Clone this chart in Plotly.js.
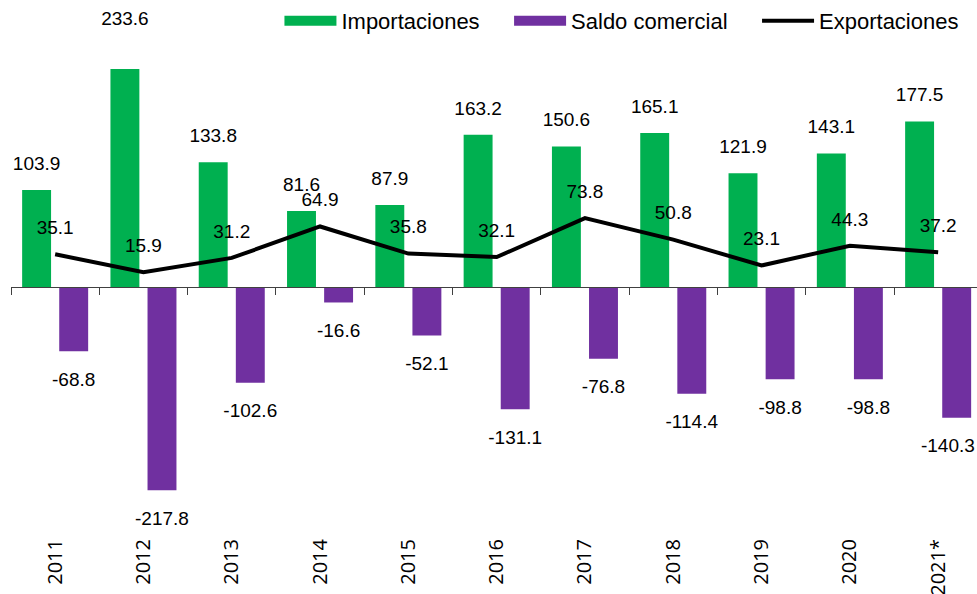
<!DOCTYPE html>
<html>
<head>
<meta charset="utf-8">
<script src="https://cdn.plot.ly/plotly-3.0.1.min.js"></script>
<style>html,body{margin:0;padding:0;background:#fff}#chart{width:977px;height:594px}</style>
</head>
<body>
<div id="chart"></div>
<script>
const years = ['2011','2012','2013','2014','2015','2016','2017','2018','2019','2020','2021*'];
const importaciones = [103.9, 233.6, 133.8, 81.6, 87.9, 163.2, 150.6, 165.1, 121.9, 143.1, 177.5];
const saldo = [-68.8, -217.8, -102.6, -16.6, -52.1, -131.1, -76.8, -114.4, -98.8, -98.8, -140.3];
const exportaciones = [35.1, 15.9, 31.2, 64.9, 35.8, 32.1, 73.8, 50.8, 23.1, 44.3, 37.2];

const GREEN = '#00B050', PURPLE = '#7030A0';
const labelFont = {family: 'Liberation Sans, Arial, sans-serif', size: 19, color: '#000'};
const xs = years.map((_, i) => i);
const BARGAP = 0.16, GROUPGAP = 0.22;
const half = (1 - BARGAP) / 4; // bar centre offset within a category
const fmt = v => v.toFixed(1);
const xr = [-0.5, 10.44];
const pxPerUnit = 0.9327, plotH = 534, zeroPx = 287;
const yr = [-(plotH - zeroPx) / pxPerUnit, zeroPx / pxPerUnit];
const pad = '\u00a0\u00a0\u00a0\u00a0';
// keep the last label inside the plot (as the original does)
const labelHalfWidth = 0.33;
const saldoLabelX = xs.map(x => Math.min(x + half, xr[1] - labelHalfWidth));
// the tallest bar's label sits higher in the original
const impLabelSize = importaciones.map((v, i) => i === 1 ? 61 : 23);
const hidden = s => ({size: s, color: 'rgba(0,0,0,0)', opacity: 0, line: {width: 0, color: 'rgba(0,0,0,0)'}});

const traces = [
  {type: 'bar', name: 'Importaciones', x: xs, y: importaciones, marker: {color: GREEN}, showlegend: false, hoverinfo: 'y'},
  {type: 'bar', name: 'Saldo comercial', x: xs, y: saldo, marker: {color: PURPLE}, showlegend: false, hoverinfo: 'y'},
  {type: 'scatter', mode: 'markers+text', x: xs.map(x => x - half), y: importaciones, text: importaciones.map(fmt),
   textposition: 'top center', textfont: labelFont, marker: hidden(impLabelSize), showlegend: false, hoverinfo: 'skip', cliponaxis: false},
  {type: 'scatter', mode: 'markers+text', x: saldoLabelX, y: saldo, text: saldo.map(fmt),
   textposition: 'bottom center', textfont: labelFont, marker: hidden(31), showlegend: false, hoverinfo: 'skip', cliponaxis: false},
  {type: 'scatter', mode: 'lines', name: 'Importaciones' + pad, x: [null], y: [null], line: {color: GREEN, width: 14}, hoverinfo: 'skip'},
  {type: 'scatter', mode: 'lines', name: 'Saldo comercial' + pad, x: [null], y: [null], line: {color: PURPLE, width: 14}, hoverinfo: 'skip'},
  {type: 'scatter', mode: 'lines+markers+text', name: 'Exportaciones', x: xs, y: exportaciones, xaxis: 'x2', yaxis: 'y',
   text: exportaciones.map(fmt), textposition: 'top center', textfont: labelFont,
   line: {color: '#000', width: 4}, marker: hidden(23), cliponaxis: false}
];

const layout = {
  width: 977, height: 594,
  margin: {l: 11, r: 0, t: 0, b: 594 - plotH},
  paper_bgcolor: '#fff', plot_bgcolor: '#fff',
  barmode: 'group', bargap: BARGAP, bargroupgap: GROUPGAP,
  showlegend: true,
  legend: {orientation: 'h', x: 0.987, xanchor: 'right', y: 1, yanchor: 'top',
           font: {family: 'Liberation Sans, Arial, sans-serif', size: 22, color: '#000'},
           bgcolor: 'rgba(0,0,0,0)', itemwidth: 52, traceorder: 'normal'},
  xaxis: {range: xr, tickmode: 'array', tickvals: xs, ticktext: years, tickangle: -90,
          showgrid: false, zeroline: false, showline: false, ticks: '',
          tickfont: {family: 'Open Sans, sans-serif', size: 20, color: '#000'}},
  xaxis2: {range: xr, overlaying: 'x', anchor: 'free', position: (0 - yr[0]) / (yr[1] - yr[0]),
           tickmode: 'array', tickvals: xs.map(x => x - 0.5), showticklabels: false,
           ticks: 'outside', ticklen: 7, tickwidth: 1, tickcolor: '#404040',
           showline: true, linecolor: '#404040', linewidth: 1, showgrid: false, zeroline: false},
  yaxis: {range: yr, showgrid: false, zeroline: false, showticklabels: false, ticks: '', showline: false}
};

Plotly.newPlot('chart', traces, layout, {displayModeBar: false, staticPlot: true});
</script>
</body>
</html>
